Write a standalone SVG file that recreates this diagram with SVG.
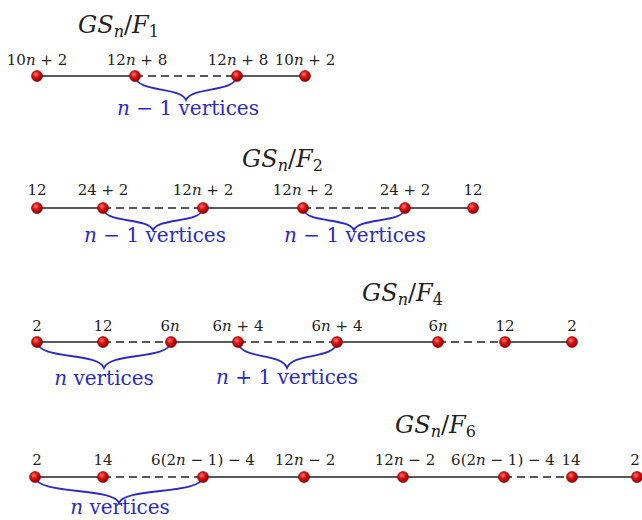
<svg xmlns="http://www.w3.org/2000/svg" width="642" height="520" viewBox="0 0 642 520">
<defs>
<radialGradient id="ball" cx="40%" cy="35%" r="65%">
<stop offset="0" stop-color="#ff7a7a"/>
<stop offset="0.45" stop-color="#e01010"/>
<stop offset="1" stop-color="#8a0000"/>
</radialGradient>
</defs>
<style>
.edge{stroke:#222;stroke-width:1.4;fill:none}
.dash{stroke:#222;stroke-width:1.4;fill:none;stroke-dasharray:8 5}
.brace{stroke:#2a2ac8;stroke-width:1.8;fill:none}
.v{fill:url(#ball);stroke:#7a0000;stroke-width:0.6}
text{font-family:"DejaVu Serif","Liberation Serif",serif}
.lbl{font-size:15px;fill:#222;text-anchor:middle}
.cnt{font-size:20px;fill:#2a2ac8;text-anchor:middle}
.ttl{font-size:24px;fill:#222}
.i{font-style:italic}
.sub{font-size:16px}
</style>

<g id="titles">
<text class="ttl" x="78" y="33"><tspan class="i">GS</tspan><tspan class="i sub" dy="4">n</tspan><tspan dy="-4">/</tspan><tspan class="i">F</tspan><tspan class="sub" dy="4">1</tspan></text>
<text class="ttl" x="242" y="167"><tspan class="i">GS</tspan><tspan class="i sub" dy="4">n</tspan><tspan dy="-4">/</tspan><tspan class="i">F</tspan><tspan class="sub" dy="4">2</tspan></text>
<text class="ttl" x="362" y="301"><tspan class="i">GS</tspan><tspan class="i sub" dy="4">n</tspan><tspan dy="-4">/</tspan><tspan class="i">F</tspan><tspan class="sub" dy="4">4</tspan></text>
<text class="ttl" x="395" y="433"><tspan class="i">GS</tspan><tspan class="i sub" dy="4">n</tspan><tspan dy="-4">/</tspan><tspan class="i">F</tspan><tspan class="sub" dy="4">6</tspan></text>
</g>

<g id="connectors">
<line class="edge" x1="37" y1="76" x2="135" y2="76"/>
<line class="dash" x1="135" y1="76" x2="237" y2="76"/>
<line class="edge" x1="237" y1="76" x2="305" y2="76"/>
<path class="brace" d="M135,76 C137,93 180,86 186,100 C192,86 235,93 237,76"/>
<line class="edge" x1="37" y1="208" x2="103" y2="208"/>
<line class="dash" x1="103" y1="208" x2="203" y2="208"/>
<line class="edge" x1="203" y1="208" x2="303" y2="208"/>
<line class="dash" x1="303" y1="208" x2="405" y2="208"/>
<line class="edge" x1="405" y1="208" x2="473" y2="208"/>
<path class="brace" d="M103,208 C105,224 147,217 153,230 C159,217 201,224 203,208"/>
<path class="brace" d="M303,208 C305,224 348,217 354,230 C360,217 403,224 405,208"/>
<line class="edge" x1="37" y1="342" x2="103" y2="342"/>
<line class="dash" x1="103" y1="342" x2="171" y2="342"/>
<line class="edge" x1="171" y1="342" x2="238" y2="342"/>
<line class="dash" x1="238" y1="342" x2="337" y2="342"/>
<line class="edge" x1="337" y1="342" x2="438" y2="342"/>
<line class="dash" x1="438" y1="342" x2="505" y2="342"/>
<line class="edge" x1="505" y1="342" x2="572" y2="342"/>
<path class="brace" d="M37,342 C39,360 98,352 104,368 C110,352 169,360 171,342"/>
<path class="brace" d="M238,342 C240,360 281,352 287,368 C293,352 335,360 337,342"/>
<line class="edge" x1="35" y1="477" x2="103" y2="477"/>
<line class="dash" x1="103" y1="477" x2="203" y2="477"/>
<line class="edge" x1="203" y1="477" x2="504" y2="477"/>
<line class="dash" x1="504" y1="477" x2="572" y2="477"/>
<line class="edge" x1="572" y1="477" x2="642" y2="477"/>
<path class="brace" d="M35,477 C37,495 113,487 119,503 C125,487 201,495 203,477"/>
</g>

<g id="counts">
<text class="cnt" x="188" y="115"><tspan class="i">n</tspan> − 1 vertices</text>
<text class="cnt" x="155" y="242"><tspan class="i">n</tspan> − 1 vertices</text>
<text class="cnt" x="355" y="242"><tspan class="i">n</tspan> − 1 vertices</text>
<text class="cnt" x="104" y="385"><tspan class="i">n</tspan> vertices</text>
<text class="cnt" x="287" y="384"><tspan class="i">n</tspan> + 1 vertices</text>
<text class="cnt" x="120" y="514"><tspan class="i">n</tspan> vertices</text>
</g>

<g id="r1n1"><circle class="v" cx="37" cy="76" r="5.5"/><text class="lbl" x="37" y="65">10<tspan class="i">n</tspan> + 2</text></g>
<g id="r1n2"><circle class="v" cx="135" cy="76" r="5.5"/><text class="lbl" x="137" y="65">12<tspan class="i">n</tspan> + 8</text></g>
<g id="r1n3"><circle class="v" cx="237" cy="76" r="5.5"/><text class="lbl" x="238" y="65">12<tspan class="i">n</tspan> + 8</text></g>
<g id="r1n4"><circle class="v" cx="305" cy="76" r="5.5"/><text class="lbl" x="305" y="65">10<tspan class="i">n</tspan> + 2</text></g>

<g id="r2n1"><circle class="v" cx="37" cy="208" r="5.5"/><text class="lbl" x="37" y="195">12</text></g>
<g id="r2n2"><circle class="v" cx="103" cy="208" r="5.5"/><text class="lbl" x="103" y="195">24 + 2</text></g>
<g id="r2n3"><circle class="v" cx="203" cy="208" r="5.5"/><text class="lbl" x="203" y="195">12<tspan class="i">n</tspan> + 2</text></g>
<g id="r2n4"><circle class="v" cx="303" cy="208" r="5.5"/><text class="lbl" x="303" y="195">12<tspan class="i">n</tspan> + 2</text></g>
<g id="r2n5"><circle class="v" cx="405" cy="208" r="5.5"/><text class="lbl" x="405" y="195">24 + 2</text></g>
<g id="r2n6"><circle class="v" cx="473" cy="208" r="5.5"/><text class="lbl" x="473" y="195">12</text></g>

<g id="r3n1"><circle class="v" cx="37" cy="342" r="5.5"/><text class="lbl" x="37" y="331">2</text></g>
<g id="r3n2"><circle class="v" cx="103" cy="342" r="5.5"/><text class="lbl" x="103" y="331">12</text></g>
<g id="r3n3"><circle class="v" cx="171" cy="342" r="5.5"/><text class="lbl" x="170" y="331">6<tspan class="i">n</tspan></text></g>
<g id="r3n4"><circle class="v" cx="238" cy="342" r="5.5"/><text class="lbl" x="238" y="331">6<tspan class="i">n</tspan> + 4</text></g>
<g id="r3n5"><circle class="v" cx="337" cy="342" r="5.5"/><text class="lbl" x="337" y="331">6<tspan class="i">n</tspan> + 4</text></g>
<g id="r3n6"><circle class="v" cx="438" cy="342" r="5.5"/><text class="lbl" x="438" y="331">6<tspan class="i">n</tspan></text></g>
<g id="r3n7"><circle class="v" cx="505" cy="342" r="5.5"/><text class="lbl" x="505" y="331">12</text></g>
<g id="r3n8"><circle class="v" cx="572" cy="342" r="5.5"/><text class="lbl" x="572" y="331">2</text></g>

<g id="r4n1"><circle class="v" cx="35" cy="477" r="5.5"/><text class="lbl" x="37" y="465">2</text></g>
<g id="r4n2"><circle class="v" cx="103" cy="477" r="5.5"/><text class="lbl" x="103" y="465">14</text></g>
<g id="r4n3"><circle class="v" cx="203" cy="477" r="5.5"/><text class="lbl" x="203" y="465">6(2<tspan class="i">n</tspan> − 1) − 4</text></g>
<g id="r4n4"><circle class="v" cx="304" cy="477" r="5.5"/><text class="lbl" x="305" y="465">12<tspan class="i">n</tspan> − 2</text></g>
<g id="r4n5"><circle class="v" cx="403" cy="477" r="5.5"/><text class="lbl" x="405" y="465">12<tspan class="i">n</tspan> − 2</text></g>
<g id="r4n6"><circle class="v" cx="504" cy="477" r="5.5"/><text class="lbl" x="503" y="465">6(2<tspan class="i">n</tspan> − 1) − 4</text></g>
<g id="r4n7"><circle class="v" cx="572" cy="477" r="5.5"/><text class="lbl" x="571" y="465">14</text></g>
<g id="r4n8"><circle class="v" cx="637" cy="477" r="5.5"/><text class="lbl" x="635" y="465">2</text></g>
</svg>
